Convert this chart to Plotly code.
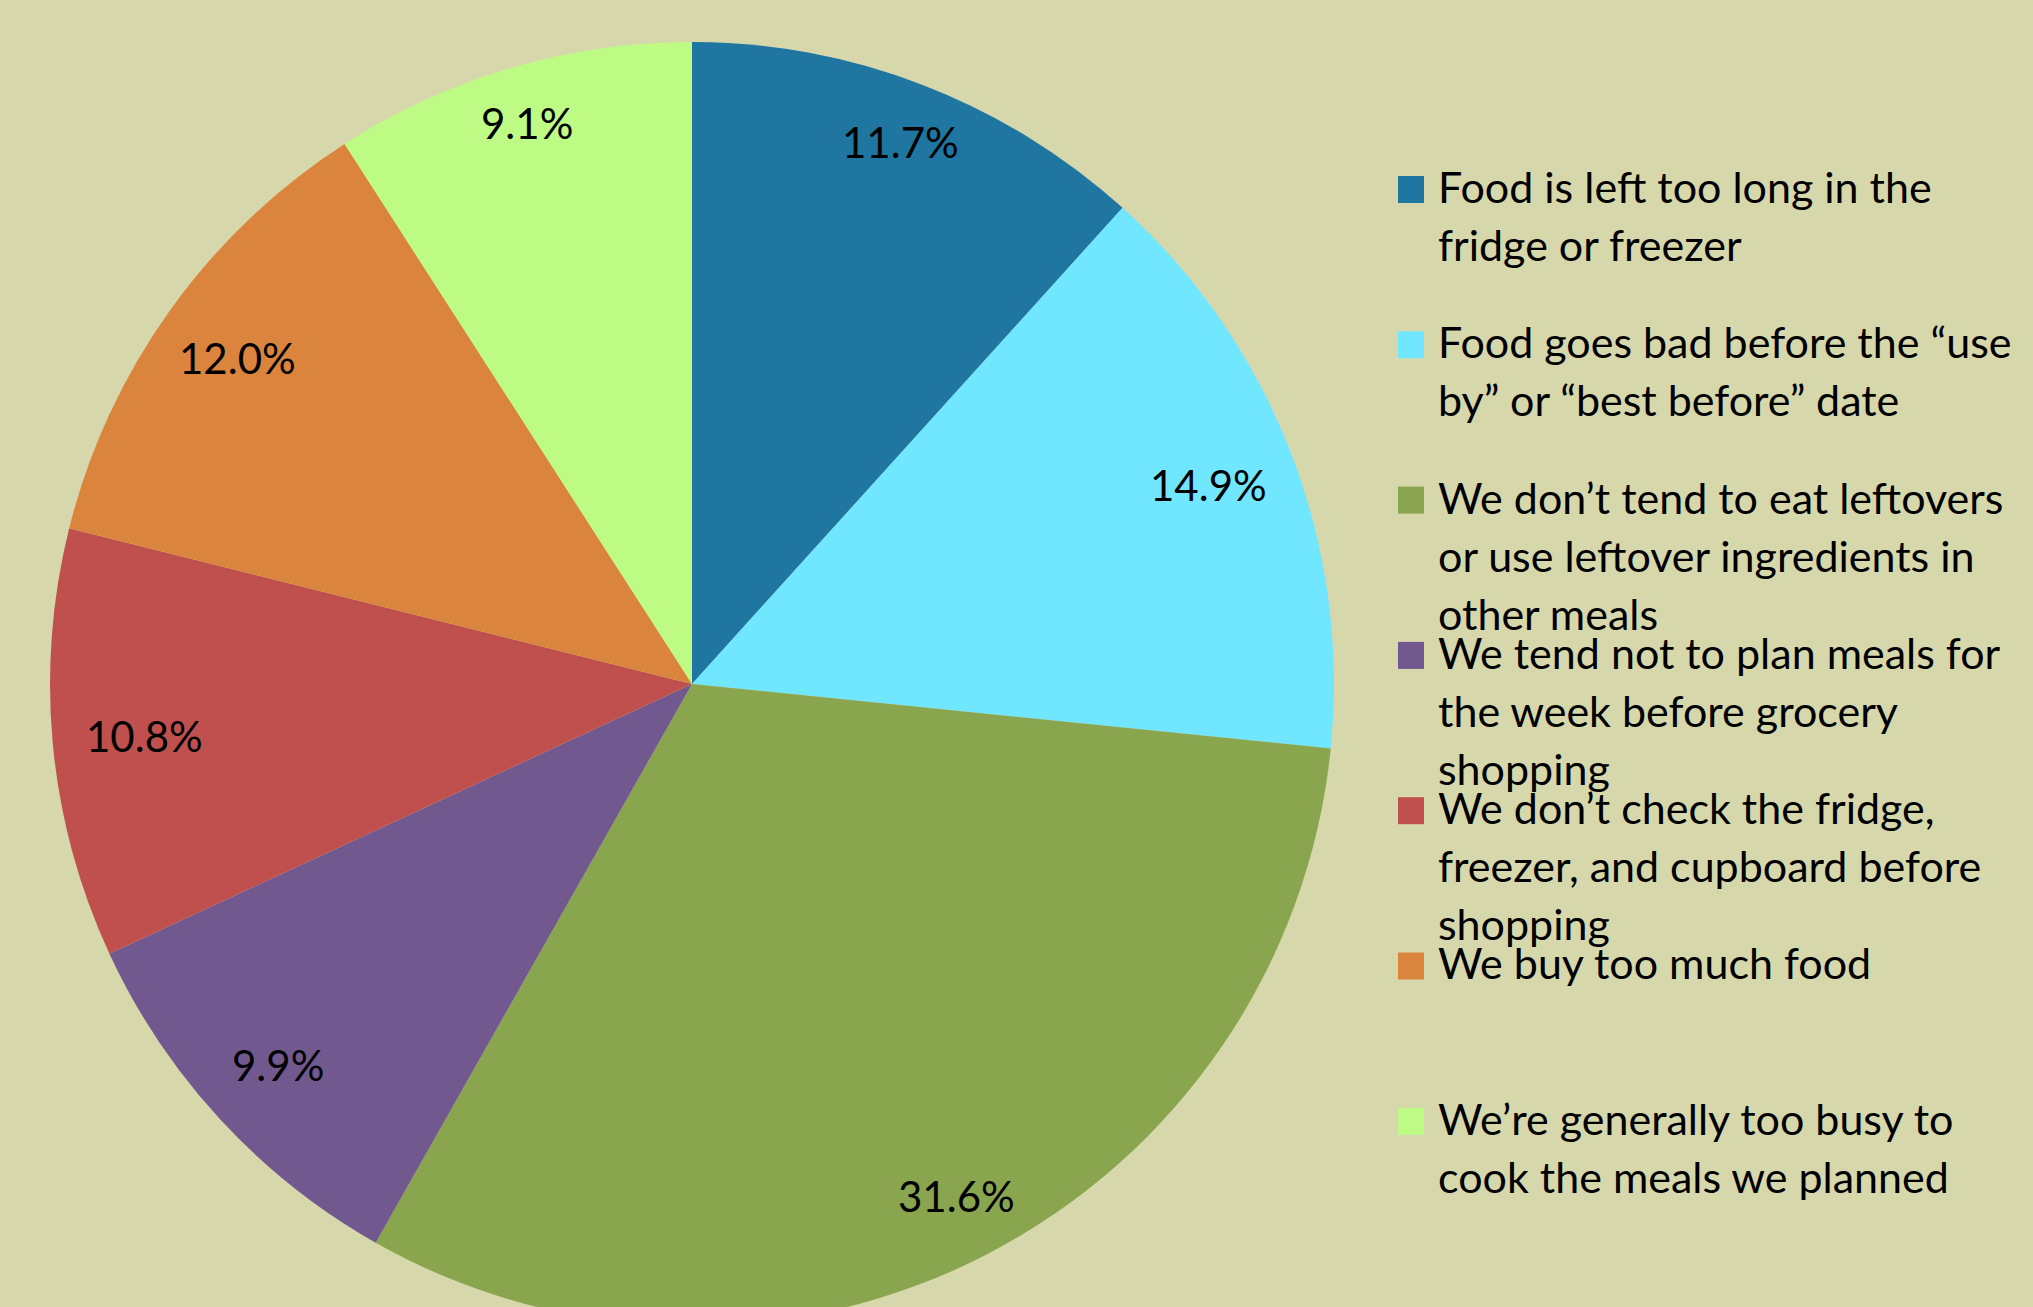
import math
import plotly.graph_objects as go

# Reasons for household food waste (share of responses, %)
categories = [
    "Food is left too long in the<br>fridge or freezer",
    "Food goes bad before the “use<br>by” or “best before” date",
    "We don’t tend to eat leftovers<br>or use leftover ingredients in<br>other meals",
    "We tend not to plan meals for<br>the week before grocery<br>shopping",
    "We don’t check the fridge,<br>freezer, and cupboard before<br>shopping",
    "We buy too much food",
    "We’re generally too busy to<br>cook the meals we planned",
]
shares = [11.7, 14.9, 31.6, 9.9, 10.8, 12.0, 9.1]
slice_colors = ["#1F76A0", "#71E6FF", "#89A54E", "#71588F", "#C0504D", "#DB843D", "#BEFB84"]

W, H = 2033, 1340
CX, CY, R = 692, 684, 642          # pie centre and radius in pixels
FONT = "Lato"
BG = "#D7D7AC"

fig = go.Figure(
    go.Pie(
        labels=[c.replace("<br>", " ") for c in categories],
        values=shares,
        sort=False,
        direction="clockwise",
        rotation=0,
        marker=dict(colors=slice_colors, line=dict(width=0)),
        textinfo="none",
        hoverinfo="label+percent",
        domain=dict(x=[(CX - R) / W, (CX + R) / W],
                    y=[1 - (CY + R) / H, 1 - (CY - R) / H]),
    )
)

annotations = []
shapes = []

# Percentage labels placed along each slice's bisector, near the rim
total = sum(shares)
cum = 0.0
for v in shares:
    theta = 2 * math.pi * (cum + v / 2) / total
    cum += v
    k = 0.932 - 0.075 * abs(math.sin(theta))
    px = CX + k * R * math.sin(theta)
    py = CY - k * R * math.cos(theta)
    annotations.append(dict(
        x=px / W, y=1 - py / H, xref="paper", yref="paper",
        text=f"{v:.1f}%", showarrow=False,
        xanchor="center", yanchor="middle",
        font=dict(family=FONT, size=42, color="black"),
    ))

# Legend: coloured keys with wrapped category text
KEY_X0, KEY_X1 = 1398, 1424
KEY_TOP0, KEY_STEP, KEY_H = 176, 155.3, 27
TEXT_X = 1436
LINE_STEP = 58
for i, (label, col) in enumerate(zip(categories, slice_colors)):
    top = KEY_TOP0 + i * KEY_STEP
    shapes.append(dict(
        type="rect", xref="paper", yref="paper",
        x0=KEY_X0 / W, x1=KEY_X1 / W,
        y0=1 - (top + KEY_H) / H, y1=1 - top / H,
        fillcolor=col, line=dict(width=0),
    ))
    for j, line in enumerate(label.split("<br>")):
        ymid = top + KEY_H / 2 - 3 + j * LINE_STEP
        annotations.append(dict(
            x=TEXT_X / W, y=1 - ymid / H, xref="paper", yref="paper",
            text=line, showarrow=False,
            xanchor="left", yanchor="middle",
            font=dict(family=FONT, size=43, color="black"),
        ))

fig.update_layout(
    width=W, height=H,
    margin=dict(l=0, r=0, t=0, b=0),
    paper_bgcolor=BG, plot_bgcolor=BG,
    showlegend=False,
    annotations=annotations,
    shapes=shapes,
)

fig.write_html(
    "out.html",
    post_script="document.body.style.margin='0';"
                "document.body.style.overflow='hidden';"
                "document.documentElement.style.overflow='hidden';",
)
